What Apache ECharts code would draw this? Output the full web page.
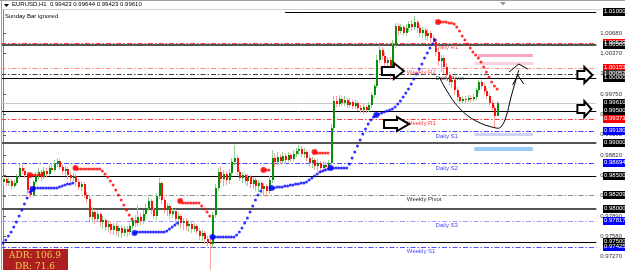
<!DOCTYPE html>
<html><head><meta charset="utf-8">
<script src="https://cdn.jsdelivr.net/npm/echarts@6/dist/echarts.min.js"></script>
<style>html,body{margin:0;padding:0;background:#fff;overflow:hidden}#c{width:625px;height:270px}</style>
</head><body><div id="c"></div>
<script>
// ---------- DATA (EURUSD H1, 185 hourly bars) ----------
const opens = [
0.98410,0.98455,0.98395,0.98425,0.98349,0.98395,0.98501,0.98623,0.98577,0.98517,
0.98288,0.98212,0.98410,0.98501,0.98562,0.98486,0.98577,0.98532,0.98623,0.98593,
0.98684,0.98730,0.98638,0.98577,0.98608,0.98517,0.98471,0.98501,0.98410,0.98334,
0.98379,0.98212,0.98150,0.97876,0.97952,0.97845,0.97922,0.97800,0.97830,0.97724,
0.97769,0.97678,0.97739,0.97663,0.97708,0.97632,0.97693,0.97647,0.97739,0.97830,
0.97785,0.97876,0.97815,0.97922,0.98013,0.98120,0.97983,0.97891,0.98196,0.98395,
0.98135,0.97983,0.98044,0.97922,0.97967,0.97845,0.97891,0.97785,0.97815,0.97739,
0.97769,0.97693,0.97739,0.97663,0.97586,0.97632,0.97541,0.97495,0.97464,0.97906,
0.98318,0.98562,0.98455,0.98532,0.98440,0.98547,0.98715,0.98776,0.98562,0.98471,
0.98517,0.98425,0.98486,0.98379,0.98440,0.98349,0.98395,0.98303,0.98349,0.98273,
0.98440,0.98776,0.98715,0.98791,0.98730,0.98806,0.98745,0.98821,0.98760,0.98837,
0.98882,0.98913,0.98837,0.98867,0.98776,0.98699,0.98745,0.98654,0.98699,0.98623,
0.98669,0.98638,0.98699,0.99233,0.99644,0.99598,0.99675,0.99614,0.99660,0.99583,
0.99629,0.99568,0.99614,0.99538,0.99507,0.99553,0.99507,0.99583,0.99736,0.99873,
1.00269,1.00422,1.00330,1.00224,1.00269,1.00148,1.00498,1.00788,1.00711,1.00772,
1.00681,1.00757,1.00818,1.00772,1.00849,1.00757,1.00681,1.00727,1.00635,1.00681,
1.00605,1.00544,1.00391,1.00254,1.00300,1.00163,1.00041,0.99934,0.99965,0.99812,
0.99705,0.99644,0.99675,0.99660,0.99690,0.99675,0.99705,0.99812,0.99934,0.99873,
0.99797,0.99720,0.99614,0.99538,0.99423];
const closes = [
0.98455,0.98395,0.98425,0.98349,0.98395,0.98501,0.98623,0.98577,0.98517,0.98288,
0.98212,0.98410,0.98501,0.98562,0.98486,0.98577,0.98532,0.98623,0.98593,0.98684,
0.98730,0.98638,0.98577,0.98608,0.98517,0.98471,0.98501,0.98410,0.98334,0.98379,
0.98212,0.98150,0.97876,0.97952,0.97845,0.97922,0.97800,0.97830,0.97724,0.97769,
0.97678,0.97739,0.97663,0.97708,0.97632,0.97693,0.97647,0.97739,0.97830,0.97785,
0.97876,0.97815,0.97922,0.98013,0.98120,0.97983,0.97891,0.98196,0.98395,0.98135,
0.97983,0.98044,0.97922,0.97967,0.97845,0.97891,0.97785,0.97815,0.97739,0.97769,
0.97693,0.97739,0.97663,0.97586,0.97632,0.97541,0.97495,0.97464,0.97906,0.98318,
0.98562,0.98455,0.98532,0.98440,0.98547,0.98715,0.98776,0.98562,0.98471,0.98517,
0.98425,0.98486,0.98379,0.98440,0.98349,0.98395,0.98303,0.98349,0.98273,0.98440,
0.98776,0.98715,0.98791,0.98730,0.98806,0.98745,0.98821,0.98760,0.98837,0.98882,
0.98913,0.98837,0.98867,0.98776,0.98699,0.98745,0.98654,0.98699,0.98623,0.98669,
0.98638,0.98699,0.99233,0.99644,0.99598,0.99675,0.99614,0.99660,0.99583,0.99629,
0.99568,0.99614,0.99538,0.99507,0.99553,0.99507,0.99583,0.99736,0.99873,1.00269,
1.00422,1.00330,1.00224,1.00269,1.00148,1.00498,1.00788,1.00711,1.00772,1.00681,
1.00757,1.00818,1.00772,1.00849,1.00757,1.00681,1.00727,1.00635,1.00681,1.00605,
1.00544,1.00391,1.00254,1.00300,1.00163,1.00041,0.99934,0.99965,0.99812,0.99705,
0.99644,0.99675,0.99660,0.99690,0.99675,0.99705,0.99812,0.99934,0.99873,0.99797,
0.99720,0.99614,0.99538,0.99416,0.99610];
const highs = [
0.98501,0.98486,0.98471,0.98455,0.98440,0.98532,0.98684,0.98669,0.98623,0.98562,
0.98349,0.98440,0.98562,0.98623,0.98593,0.98638,0.98623,0.98669,0.98684,0.98745,
0.98776,0.98760,0.98684,0.98654,0.98638,0.98562,0.98547,0.98532,0.98455,0.98425,
0.98410,0.98257,0.98196,0.98029,0.97998,0.97967,0.97952,0.97891,0.97861,0.97830,
0.97815,0.97785,0.97800,0.97754,0.97754,0.97739,0.97739,0.97785,0.97876,0.97906,
0.98059,0.97937,0.97983,0.98074,0.98181,0.98150,0.98029,0.98242,0.98471,0.98425,
0.98181,0.98089,0.98074,0.98013,0.97998,0.97952,0.97922,0.97861,0.97861,0.97830,
0.97815,0.97785,0.97769,0.97708,0.97678,0.97663,0.97586,0.97556,0.97952,0.98379,
0.98623,0.98654,0.98593,0.98577,0.98608,0.98776,0.98974,0.98821,0.98608,0.98562,
0.98547,0.98532,0.98517,0.98486,0.98471,0.98440,0.98425,0.98395,0.98379,0.98501,
0.98898,0.98852,0.98867,0.98837,0.98867,0.98852,0.98867,0.98852,0.98898,0.98928,
0.98974,0.98958,0.98928,0.98898,0.98821,0.98791,0.98776,0.98760,0.98730,0.98730,
0.98715,0.98745,0.99294,0.99720,0.99720,0.99736,0.99720,0.99720,0.99690,0.99690,
0.99660,0.99660,0.99644,0.99583,0.99598,0.99583,0.99629,0.99782,0.99904,1.00346,
1.00498,1.00468,1.00391,1.00315,1.00315,1.00574,1.00833,1.00833,1.00818,1.00803,
1.00818,1.00864,1.00879,1.00940,1.00879,1.00803,1.00772,1.00757,1.00742,1.00711,
1.00650,1.00589,1.00452,1.00346,1.00346,1.00224,1.00086,1.00025,0.99995,0.99858,
0.99751,0.99720,0.99720,0.99736,0.99736,0.99751,0.99843,0.99965,0.99965,0.99919,
0.99843,0.99766,0.99660,0.99583,0.99644];
const lows = [
0.98364,0.98349,0.98349,0.98303,0.98318,0.98364,0.98471,0.98532,0.98471,0.98227,
0.98166,0.98181,0.98379,0.98440,0.98425,0.98455,0.98471,0.98501,0.98547,0.98562,
0.98638,0.98593,0.98517,0.98501,0.98455,0.98410,0.98425,0.98349,0.98288,0.98273,
0.98166,0.98089,0.97815,0.97815,0.97769,0.97800,0.97724,0.97693,0.97663,0.97647,
0.97617,0.97602,0.97586,0.97571,0.97556,0.97586,0.97571,0.97602,0.97693,0.97724,
0.97739,0.97754,0.97769,0.97876,0.97967,0.97922,0.97845,0.97830,0.98150,0.98074,
0.97937,0.97891,0.97845,0.97861,0.97769,0.97739,0.97708,0.97678,0.97663,0.97647,
0.97632,0.97647,0.97617,0.97525,0.97510,0.97464,0.97434,0.97068,0.97404,0.97861,
0.98273,0.98395,0.98349,0.98364,0.98379,0.98501,0.98669,0.98517,0.98425,0.98395,
0.98364,0.98349,0.98318,0.98303,0.98273,0.98257,0.98227,0.98196,0.98181,0.98227,
0.98395,0.98638,0.98669,0.98684,0.98699,0.98684,0.98715,0.98715,0.98730,0.98791,
0.98821,0.98791,0.98776,0.98730,0.98638,0.98623,0.98593,0.98577,0.98547,0.98562,
0.98577,0.98608,0.98654,0.99187,0.99553,0.99553,0.99568,0.99568,0.99538,0.99538,
0.99522,0.99522,0.99492,0.99462,0.99446,0.99462,0.99477,0.99538,0.99690,0.99843,
1.00224,1.00269,1.00163,1.00117,0.99965,1.00086,1.00452,1.00650,1.00666,1.00635,
1.00635,1.00696,1.00711,1.00727,1.00681,1.00620,1.00605,1.00574,1.00559,1.00529,
1.00483,1.00330,1.00178,1.00086,1.00056,0.99980,0.99873,0.99843,0.99736,0.99644,
0.99598,0.99614,0.99614,0.99629,0.99629,0.99644,0.99660,0.99766,0.99827,0.99751,
0.99675,0.99568,0.99492,0.99248,0.99423];
// trend-stop dots (blue below price, red above price); null = no dot
const sarBlue = [
0.97480,0.97525,0.97586,0.97647,0.97724,0.97800,0.97891,0.97983,0.98074,0.98166,
0.98257,0.98303,0.98318,0.98318,0.98318,0.98318,0.98318,0.98318,0.98318,0.98318,
0.98318,0.98334,0.98349,0.98364,0.98379,0.98379,0.98395,null,null,null,
null,null,null,null,null,null,null,null,null,null,
null,null,null,null,null,null,null,null,null,0.97632,
0.97647,0.97647,0.97647,0.97647,0.97647,0.97647,0.97647,0.97647,0.97647,0.97647,
0.97647,0.97663,0.97693,0.97724,0.97754,0.97785,null,null,null,null,
null,null,null,null,null,null,null,null,0.97571,0.97571,
0.97571,0.97571,0.97571,0.97571,0.97571,0.97571,0.97571,0.97602,0.97647,0.97708,
0.97785,0.97861,0.97952,0.98044,0.98135,0.98212,0.98273,null,null,null,
0.98318,0.98318,0.98334,0.98334,0.98334,0.98349,0.98349,0.98364,0.98364,0.98379,
0.98379,0.98395,0.98395,0.98410,0.98440,0.98471,0.98501,0.98532,0.98562,0.98577,
0.98593,0.98608,0.98623,0.98623,0.98623,0.98623,0.98623,0.98623,0.98623,0.98684,
0.98776,0.98867,0.98958,0.99050,0.99141,0.99218,0.99294,0.99355,0.99401,0.99431,
0.99446,0.99462,0.99477,0.99492,0.99507,0.99522,0.99553,0.99598,0.99644,0.99705,
0.99766,0.99827,0.99904,0.99980,1.00056,1.00132,1.00208,1.00300,1.00376,1.00452,
1.00513,1.00574,null,null,null,null,null,null,null,null,
null,null,null,null,null,null,null,null,null,null,
null,null,null,null,null];
const sarRed = [
null,null,null,null,null,null,null,null,null,null,
0.98517,0.98517,0.98517,0.98517,0.98517,null,null,null,null,null,
null,null,null,null,null,null,null,0.98623,0.98608,0.98608,
0.98608,0.98608,0.98608,0.98608,0.98608,0.98608,0.98608,0.98577,0.98532,0.98486,
0.98425,0.98364,0.98288,0.98212,0.98135,0.98059,0.97983,0.97906,0.97845,null,
null,null,null,null,null,null,null,null,null,null,
null,null,null,null,null,null,0.98120,0.98089,0.98089,0.98089,
0.98089,0.98089,0.98089,0.98089,0.98044,0.97998,0.97952,0.97891,null,null,
null,null,null,null,null,null,null,null,null,null,
null,null,null,null,null,null,null,0.98593,0.98593,0.98593,
null,null,null,null,null,null,null,null,null,null,
null,null,null,null,null,null,0.98867,0.98852,0.98852,0.98852,
0.98852,0.98852,null,null,null,null,null,null,null,null,
null,null,null,null,null,null,null,null,null,null,
null,null,null,null,null,null,null,null,null,null,
null,null,null,null,null,null,null,null,null,null,
null,null,1.00849,1.00849,1.00849,1.00849,1.00833,1.00833,1.00818,1.00772,
1.00711,1.00635,1.00574,1.00513,1.00452,1.00391,1.00346,1.00300,1.00239,1.00163,
1.00086,1.00010,0.99934,0.99873,0.99827];
const blueStarts = [11,49,78,100,122,139];
const redStarts = [10,27,66,97,116,162];

const levelValues = [1.01000,1.00529,1.00500,1.00153,1.00052,1.00000,0.99610,0.99500,0.99373,0.99180,0.99000,0.98694,0.98500,0.98209,0.98000,0.97817,0.97500,0.97425];
const levelNames  = ['','Daily R1','','Weekly R2','Daily Pivot','','','','Weekly R1','Daily S1','','Daily S2','','Weekly Pivot','','Daily S3','','Weekly S1'];
const levelKinds  = ['top','dR','thick','wR2','dP','round','bid','round','wR','dS','thick','dS','round','wP','thick','dS3','round','wS'];
const tickValues = [1.0068,1.0037,1.0006,0.9975,0.9944,0.9913,0.9882,0.9851,0.9820,0.9789,0.9758,0.9727];
const symbolName = 'EURUSD,H1';
const adrValue = 106.9, drValue = 71.6;
const topLineFromBar = 105;

// drawn annotations (bar index, price)
const curvePts = [[162.5,1.00010],[165.1,0.99812],[169.9,0.99538],[176.2,0.99339],[183.6,0.99233],[185.4,0.99248],[187.3,0.99401],[189.1,0.99690],[191.0,0.99965],[192.1,1.00117]];
const caret1 = [[188.4,1.00086],[192.1,1.00208],[195.4,1.00132]];
const caret2 = [[189.8,0.99889],[191.7,1.00041],[193.9,0.99904]];
const zones = [
  {x:[176.9,197.3], y:[1.00361,1.00315], c:'#f7a6c6'},
  {x:[175.5,197.6], y:[1.00239,1.00193], c:'#fbd2de'},
  {x:[175.5,197.3], y:[0.99157,0.99111], c:'#ccd3f7'},
  {x:[175.5,197.3], y:[0.98943,0.98882], c:'#9ccbfa'}
];
const arrows = [ // left bar index, centre price | width, head start, shaft half, head half (px)
  [141.1,1.00102,22,12,4,8],[141.9,0.99294,25,13,4,7],[213.9,1.00041,15,7,4,8],[213.9,0.99522,14,7,4,8]
];
const weeklyLabelBar = 150.4, dailyLabelBar = 161.1;

// ---------- STYLE ----------
const DD = [5,2,1.5,2];
const kindStyle = {
  top:{c:'#000000',w:1,t:null,box:'#000000',from:topLineFromBar},
  round:{c:'#000000',w:1,t:null,box:'#000000'},
  thick:{c:'#555555',w:2,t:null,box:'#000000'},
  bid:{c:'#c8c8c8',w:1,t:null,box:'#000000'},
  dR:{c:'#ff3c3c',w:1,t:DD,box:'#ff0000',tc:'#ff4a4a'},
  wR2:{c:'#ff8c8c',w:1,t:DD,box:'#ff0000',tc:'#ff5050'},
  wR:{c:'#ff3c3c',w:1,t:DD,box:'#ff0000',tc:'#ff3c3c'},
  dP:{c:'#444444',w:1,t:DD,box:'#333333',tc:'#555555'},
  dS:{c:'#4646ff',w:1,t:DD,box:'#0000ff',tc:'#4646ff'},
  dS3:{c:'#9c9cff',w:1,t:DD,box:'#0000ff',tc:'#4646ff'},
  wP:{c:'#8a8a8a',w:1,t:DD,box:'#000000',tc:'#333333'},
  wS:{c:'#5050ff',w:1,t:DD,box:'#0000ff',tc:'#4646ff'}
};
const FONT = 'Liberation Sans';
const chart = echarts.init(document.getElementById('c'), null, {renderer:'canvas'});

const candleData = opens.map((o,i)=>[i,o,closes[i],lows[i],highs[i]]);
const blueDots = sarBlue.map((v,i)=>v==null?null:[i,v]).filter(Boolean);
const redDots = sarRed.map((v,i)=>v==null?null:[i,v]).filter(Boolean);
const levelData = levelValues.map((v,k)=>[k,v]);

chart.setOption({
  animation:false,
  grid:{left:1,right:24,top:9,bottom:0,containLabel:false},
  xAxis:{type:'value',min:-0.739,max:220.95,show:false},
  yAxis:{type:'value',position:'right',min:0.97069,max:1.01047,scale:true,
    splitLine:{show:false},
    axisLine:{show:true,lineStyle:{color:'#808080',width:1}},
    axisTick:{show:true,length:3,customValues:tickValues,lineStyle:{color:'#555'}},
    axisLabel:{customValues:tickValues,formatter:v=>v.toFixed(5),fontSize:6,fontFamily:FONT,color:'#333',margin:4}
  },
  series:[
    {type:'custom',z:1,silent:true,data:levelData,encode:{x:0,y:1},clip:false,
      renderItem:(params,api)=>{
        const k=api.value(0), v=api.value(1);
        const s=kindStyle[levelKinds[k]];
        const cs=params.coordSys;
        const y0=api.coord([0,v])[1];
        const x1=s.from!=null?api.coord([s.from,v])[0]:cs.x;
        const y=s.w===1?Math.round(y0)+0.5:Math.round(y0);
        return {type:'line',shape:{x1:x1,y1:y,x2:cs.x+cs.width,y2:y},
          style:{stroke:s.c,lineWidth:s.w,lineDash:s.t||null}};
      }
    },
    {type:'line',data:[],z:1,silent:true,
      markArea:{silent:true,data:zones.map(z=>[{xAxis:z.x[0],yAxis:z.y[0],itemStyle:{color:z.c}},{xAxis:z.x[1],yAxis:z.y[1]}])}
    },
    {type:'custom',z:3,silent:true,data:candleData,encode:{x:0,y:[1,2,3,4]},
      renderItem:(params,api)=>{
        const i=api.value(0),o=api.value(1),c=api.value(2),l=api.value(3),h=api.value(4);
        const pO=api.coord([i,o]),pC=api.coord([i,c]),pL=api.coord([i,l]),pH=api.coord([i,h]);
        const up=c>=o; const px=Math.round(pO[0]);
        const top=Math.round(Math.min(pO[1],pC[1])),bot=Math.round(Math.max(pO[1],pC[1]));
        return {type:'group',children:[
          {type:'line',shape:{x1:px+0.5,y1:pH[1],x2:px+0.5,y2:pL[1]},style:{stroke:up?'#8fd28f':'#ffa0a0',lineWidth:1}},
          {type:'rect',shape:{x:px,y:top,width:2,height:Math.max(1,bot-top)},style:{fill:up?'#0a8f0a':'#ff1010'}}
        ]};
      }
    },
    {type:'scatter',z:4,silent:true,data:blueDots,symbolSize:3,itemStyle:{color:'#0000ff'}},
    {type:'scatter',z:4,silent:true,data:redDots,symbolSize:3,itemStyle:{color:'#ff0000'}},
    {type:'scatter',z:5,silent:true,data:blueStarts.map(i=>[i,sarBlue[i]]),symbolSize:6,itemStyle:{color:'#0000ff'}},
    {type:'scatter',z:5,silent:true,data:redStarts.map(i=>[i,sarRed[i]]),symbolSize:6,itemStyle:{color:'#ff0000'}}
  ]
});

// ---------- overlay graphics ----------
const P = p => chart.convertToPixel({gridIndex:0}, p);
const g = [];
g.push({type:'line',shape:{x1:0,y1:0.5,x2:625,y2:0.5},style:{stroke:'#a0a0a0',lineWidth:1},z:50});
g.push({type:'line',shape:{x1:1.5,y1:0,x2:1.5,y2:270},style:{stroke:'#a0a0a0',lineWidth:1},z:50});
g.push({type:'rect',shape:{x:2,y:1,width:599,height:8},style:{fill:'#fff'},z:40});
g.push({type:'line',shape:{x1:2,y1:9.5,x2:601,y2:9.5},style:{stroke:'#d0d0d0',lineWidth:1},z:40});
g.push({type:'polygon',shape:{points:[[4,4],[9,4],[6.5,7]]},style:{fill:'#000'},z:41});
const last = opens.length-1;
g.push({type:'text',x:12,y:1.5,style:{text:symbolName+'  '+opens[last].toFixed(5)+' '+highs[last].toFixed(5)+' '+lows[last].toFixed(5)+' '+closes[last].toFixed(5),fill:'#000',font:'6px '+FONT},z:41});
g.push({type:'polygon',shape:{points:[[500,2],[506,2],[503,5.5]]},style:{fill:'#9a9a9a'},z:41});
g.push({type:'text',x:5,y:13,style:{text:'Sunday Bar ignored',fill:'#000',font:'6px '+FONT},z:41});
const order = [1,3,4,8,9,11,13,15,17,0,2,5,6,7,10,12,14,16];
order.forEach(k=>{
  const s=kindStyle[levelKinds[k]];
  const y=Math.round(P([0,levelValues[k]])[1]);
  g.push({type:'rect',shape:{x:603,y:y-4,width:23,height:8},style:{fill:s.box},z:45});
  g.push({type:'text',x:604,y:y-3.5,style:{text:levelValues[k].toFixed(5),fill:'#fff',font:'6px '+FONT},z:46});
});
levelNames.forEach((n,k)=>{
  if(!n) return;
  const weekly = n.indexOf('Weekly')===0;
  const p = P([weekly?weeklyLabelBar:dailyLabelBar, levelValues[k]]);
  g.push({type:'text',x:p[0],y:p[1]+1.5,style:{text:n,fill:kindStyle[levelKinds[k]].tc,font:'6px '+FONT},z:30});
});
arrows.forEach(a=>{
  const p=P([a[0],a[1]]); const L=p[0],cy=p[1],W=a[2],hx=L+a[3],sh=a[4],hh=a[5];
  g.push({type:'polygon',shape:{points:[[L,cy-sh],[hx,cy-sh],[hx,cy-hh],[L+W,cy],[hx,cy+hh],[hx,cy+sh],[L,cy+sh]]},
    style:{fill:'#fff',stroke:'#000',lineWidth:2},z:35});
});
g.push({type:'polyline',shape:{points:curvePts.map(P),smooth:0.4},style:{stroke:'#000',lineWidth:1,fill:null},z:36});
g.push({type:'polyline',shape:{points:caret1.map(P)},style:{stroke:'#000',lineWidth:1,fill:null},z:36});
g.push({type:'polyline',shape:{points:caret2.map(P)},style:{stroke:'#000',lineWidth:1,fill:null},z:36});
g.push({type:'rect',shape:{x:3,y:249,width:65,height:22},style:{fill:'#ab1f1f'},z:60});
g.push({type:'text',x:35,y:251,style:{text:'ADR: '+adrValue.toFixed(1),fill:'#f6c35a',font:'9px "DejaVu Serif"',align:'center'},z:61});
g.push({type:'text',x:35,y:262,style:{text:'DR: '+drValue.toFixed(1),fill:'#f6c35a',font:'9px "DejaVu Serif"',align:'center'},z:61});
chart.setOption({graphic:g});
</script></body></html>
